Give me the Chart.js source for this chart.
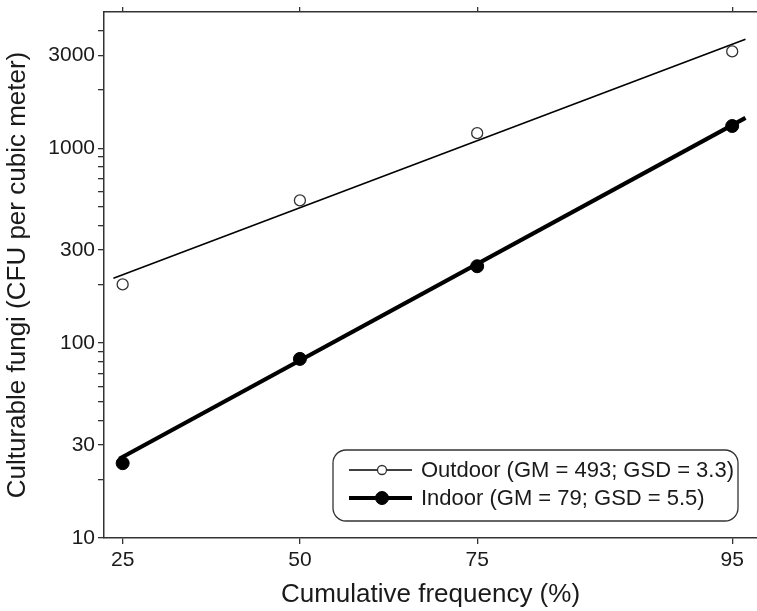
<!DOCTYPE html>
<html>
<head>
<meta charset="utf-8">
<script src="https://cdn.jsdelivr.net/npm/chart.js@4"></script>
<style>
  html, body { margin: 0; padding: 0; background: #fff; overflow: hidden; }
  #wrap { width: 757px; height: 611px; }
  canvas { display: block; }
</style>
</head>
<body>
<div id="wrap"><canvas id="fungiChart" width="757" height="611"></canvas></div>
<script>
// values
const freqPct = [25, 50, 75, 95];
const outdoorCfu = [200, 540, 1195, 3140];
const indoorCfu = [24.2, 83, 248, 1300];

// fitted lognormal lines (end points)
const outdoorFitPct = [23.9, 95.5];
const outdoorFitCfu = [215, 3620];
const indoorFitPct = [24.6, 95.5];
const indoorFitCfu = [25.5, 1430];

const yMajor = [10, 30, 100, 300, 1000, 3000];
const yMinor = [20, 40, 50, 60, 70, 80, 90, 200, 400, 500, 600, 700, 800, 900, 2000, 4000];
const xRangePct = [22.8, 95.9];
const yRange = [10, 5000];

const legendLabels = ['Outdoor (GM = 493; GSD = 3.3)', 'Indoor (GM = 79; GSD = 5.5)'];

// inverse normal CDF, used for the probability (probit) x axis
function probit(p) {
  const a = [-39.69683028665376, 220.9460984245205, -275.9285104469687, 138.3577518672690, -30.66479806614716, 2.506628277459239];
  const b = [-54.47609879822406, 161.5858368580409, -155.6989798598866, 66.80131188771972, -13.28068155288572];
  const c = [-0.007784894002430293, -0.3223964580411365, -2.400758277161838, -2.549732539343734, 4.374664141464968, 2.938163982698783];
  const d = [0.007784695709041462, 0.3224671290700398, 2.445134137142996, 3.754408661907416];
  const plow = 0.02425;
  let q, r;
  if (p < plow) {
    q = Math.sqrt(-2 * Math.log(p));
    return (((((c[0]*q+c[1])*q+c[2])*q+c[3])*q+c[4])*q+c[5]) / ((((d[0]*q+d[1])*q+d[2])*q+d[3])*q+1);
  }
  if (p <= 1 - plow) {
    q = p - 0.5; r = q * q;
    return (((((a[0]*r+a[1])*r+a[2])*r+a[3])*r+a[4])*r+a[5])*q / (((((b[0]*r+b[1])*r+b[2])*r+b[3])*r+b[4])*r+1);
  }
  q = Math.sqrt(-2 * Math.log(1 - p));
  return -(((((c[0]*q+c[1])*q+c[2])*q+c[3])*q+c[4])*q+c[5]) / ((((d[0]*q+d[1])*q+d[2])*q+d[3])*q+1);
}

const toPoints = (pcts, vals) => pcts.map((p, i) => ({ x: probit(p / 100), y: vals[i] }));

const ink = '#1a1a1a';
const axisColor = '#333';
Chart.defaults.font.family = '"Liberation Sans", Arial, sans-serif';
Chart.defaults.color = ink;

// rounded legend box with line + marker samples
const boxLegend = {
  id: 'boxLegend',
  afterDraw(chart) {
    const ctx = chart.ctx;
    const ca = chart.chartArea;
    const bx = ca.right - 424, by = ca.bottom - 88, bw = 405, bh = 71;
    ctx.save();
    ctx.beginPath();
    ctx.roundRect(bx, by, bw, bh, 13);
    ctx.fillStyle = '#fff';
    ctx.fill();
    ctx.lineWidth = 1.3;
    ctx.strokeStyle = axisColor;
    ctx.stroke();

    const styles = [
      { lw: 1.5, r: 4.5, fill: '#fff', stroke: '#333', bw: 1.3 },
      { lw: 4, r: 6.5, fill: '#000', stroke: '#000', bw: 1 }
    ];
    legendLabels.forEach((txt, i) => {
      const s = styles[i];
      const y = by + 20 + i * 28;
      ctx.beginPath();
      ctx.moveTo(bx + 16, y);
      ctx.lineTo(bx + 79, y);
      ctx.lineWidth = s.lw;
      ctx.strokeStyle = '#000';
      ctx.stroke();
      ctx.beginPath();
      ctx.arc(bx + 49, y, s.r, 0, Math.PI * 2);
      ctx.fillStyle = s.fill;
      ctx.fill();
      ctx.lineWidth = s.bw;
      ctx.strokeStyle = s.stroke;
      ctx.stroke();
      ctx.fillStyle = ink;
      ctx.font = '22px "Liberation Sans", Arial, sans-serif';
      ctx.textBaseline = 'middle';
      ctx.textAlign = 'left';
      ctx.fillText(txt, bx + 88, y + 1);
    });
    ctx.restore();
  }
};

const xTicks = (scale) => { scale.ticks = freqPct.map(p => ({ value: probit(p / 100) })); };

const fungiChart = new Chart(document.getElementById('fungiChart').getContext('2d'), {
  type: 'scatter',
  data: {
    datasets: [
      {
        label: legendLabels[0],
        data: toPoints(freqPct, outdoorCfu),
        showLine: false,
        pointRadius: 5.5,
        pointBackgroundColor: '#fff',
        pointBorderColor: '#333',
        pointBorderWidth: 1.3,
        order: 0
      },
      {
        label: legendLabels[1],
        data: toPoints(freqPct, indoorCfu),
        showLine: false,
        pointRadius: 6.5,
        pointBackgroundColor: '#000',
        pointBorderColor: '#000',
        pointBorderWidth: 1,
        order: 0
      },
      {
        label: 'Outdoor fit',
        data: toPoints(outdoorFitPct, outdoorFitCfu),
        showLine: true,
        borderColor: '#000',
        borderWidth: 1.6,
        pointRadius: 0,
        order: 1
      },
      {
        label: 'Indoor fit',
        data: toPoints(indoorFitPct, indoorFitCfu),
        showLine: true,
        borderColor: '#000',
        borderWidth: 4.2,
        pointRadius: 0,
        order: 1
      }
    ]
  },
  options: {
    responsive: false,
    animation: false,
    layout: { padding: 0, autoPadding: false },
    plugins: {
      legend: { display: false },
      tooltip: { enabled: false }
    },
    scales: {
      x: {
        type: 'linear',
        position: 'bottom',
        min: probit(xRangePct[0] / 100),
        max: probit(xRangePct[1] / 100),
        afterBuildTicks: xTicks,
        afterFit: (scale) => { scale.height = 73; scale.paddingLeft = 0; scale.paddingRight = 0; },
        ticks: {
          autoSkip: false,
          maxRotation: 0,
          padding: 4,
          font: { size: 21 },
          color: ink,
          callback: (v, i) => String(freqPct[i])
        },
        grid: { drawOnChartArea: false, drawTicks: true, tickLength: 6, color: axisColor, lineWidth: 1.3 },
        border: { color: axisColor, width: 1.5 },
        title: {
          display: true,
          text: 'Cumulative frequency (%)',
          font: { size: 26 },
          color: ink,
          padding: { top: 0, bottom: 1 }
        }
      },
      xTop: {
        type: 'linear',
        position: 'top',
        min: probit(xRangePct[0] / 100),
        max: probit(xRangePct[1] / 100),
        afterBuildTicks: xTicks,
        afterFit: (scale) => { scale.height = 12; scale.paddingLeft = 0; scale.paddingRight = 0; },
        ticks: { display: false },
        grid: { drawOnChartArea: false, drawTicks: true, tickLength: 5, color: axisColor, lineWidth: 1.3 },
        border: { color: axisColor, width: 1.5 }
      },
      y: {
        type: 'logarithmic',
        position: 'left',
        min: yRange[0],
        max: yRange[1],
        afterBuildTicks: (scale) => {
          scale.ticks = yMajor.concat(yMinor).sort((a, b) => a - b).map(v => ({ value: v, major: yMajor.includes(v) }));
        },
        afterFit: (scale) => { scale.width = 104; scale.paddingTop = 0; scale.paddingBottom = 0; },
        ticks: {
          autoSkip: false,
          padding: 3,
          font: { size: 21 },
          color: ink,
          callback: (v) => yMajor.includes(v) ? String(v) : ''
        },
        grid: { drawOnChartArea: false, drawTicks: true, tickLength: 6, color: axisColor, lineWidth: 1.3 },
        border: { color: axisColor, width: 1.5 },
        title: {
          display: true,
          text: 'Culturable fungi (CFU per cubic meter)',
          font: { size: 26 },
          color: ink,
          padding: { top: 2, bottom: 0 }
        }
      }
    }
  },
  plugins: [boxLegend]
});
</script>
</body>
</html>
